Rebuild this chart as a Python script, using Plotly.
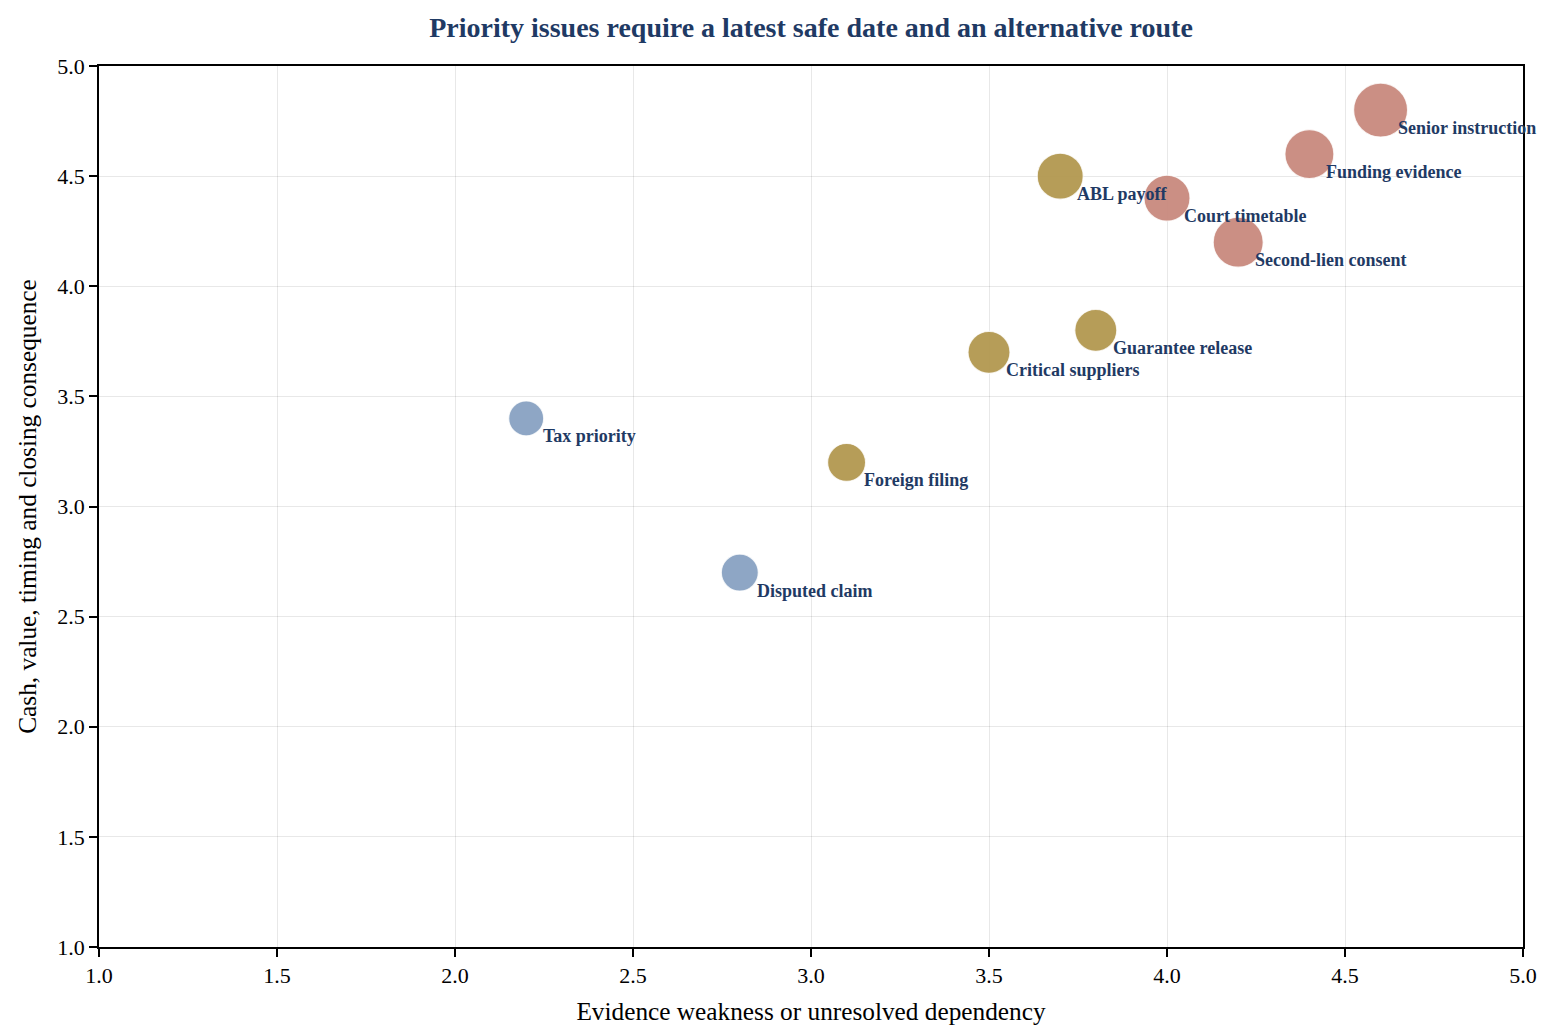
import plotly.graph_objects as go

# 问题清单：证据薄弱度 / 后果严重度 / 紧急度（决定气泡大小）
issues = ["Senior instruction", "Funding evidence", "ABL payoff", "Court timetable",
          "Second-lien consent", "Guarantee release", "Critical suppliers",
          "Tax priority", "Foreign filing", "Disputed claim"]
evidence_weakness = [4.6, 4.4, 3.7, 4.0, 4.2, 3.8, 3.5, 2.2, 3.1, 2.8]
consequence = [4.8, 4.6, 4.5, 4.4, 4.2, 3.8, 3.7, 3.4, 3.2, 2.7]
urgency = [5.4, 4.9, 4.6, 4.6, 5.0, 4.2, 4.2, 3.5, 3.8, 3.7]
tier = ["red", "red", "amber", "red", "red", "amber", "amber", "blue", "amber", "blue"]

tier_colors = {"red": "#c98a7e", "amber": "#b39850", "blue": "#88a2c2"}
font_name = "Liberation Serif, Times New Roman, serif"
navy = "#1f3a64"

fig = go.Figure()
fig.add_trace(go.Scatter(
    x=evidence_weakness,
    y=consequence,
    mode="markers",
    marker=dict(
        size=urgency,
        sizemode="diameter",
        sizeref=0.1,
        color=[tier_colors[t] for t in tier],
        opacity=0.95,
        line=dict(width=1.2, color="rgba(255,255,255,0.8)"),
    ),
    text=issues,
    hoverinfo="text",
    showlegend=False,
))

# 标签放在气泡右下方，固定偏移
for name, xv, yv in zip(issues, evidence_weakness, consequence):
    fig.add_annotation(
        x=xv, y=yv, text="<b>%s</b>" % name,
        showarrow=False, xanchor="left", yanchor="middle",
        xshift=15, yshift=-18,
        font=dict(family=font_name, size=18, color=navy),
    )

axis_style = dict(
    range=[1, 5],
    dtick=0.5,
    tickformat=".1f",
    showline=True,
    linecolor="black",
    linewidth=1.5,
    mirror=True,
    ticks="outside",
    ticklen=8,
    tickwidth=1.5,
    tickcolor="black",
    showgrid=True,
    gridcolor="rgba(0,0,0,0.09)",
    gridwidth=1.2,
    zeroline=False,
    tickfont=dict(family=font_name, size=22, color="black"),
)

fig.update_xaxes(title=dict(text="Evidence weakness or unresolved dependency",
                            font=dict(family=font_name, size=25.3, color="black"),
                            standoff=15),
                 **axis_style)
fig.update_yaxes(title=dict(text="Cash, value, timing and closing consequence",
                            font=dict(family=font_name, size=25.3, color="black"),
                            standoff=13),
                 **axis_style)

fig.update_layout(
    width=1556, height=1036,
    title=dict(text="<b>Priority issues require a latest safe date and an alternative route</b>",
               x=0.5, xref="paper", xanchor="center", y=0.981, yanchor="middle",
               font=dict(family=font_name, size=28, color=navy)),
    margin=dict(l=91, r=41, t=58, b=97),
    plot_bgcolor="white",
    paper_bgcolor="white",
)

fig.write_html("out.html")
